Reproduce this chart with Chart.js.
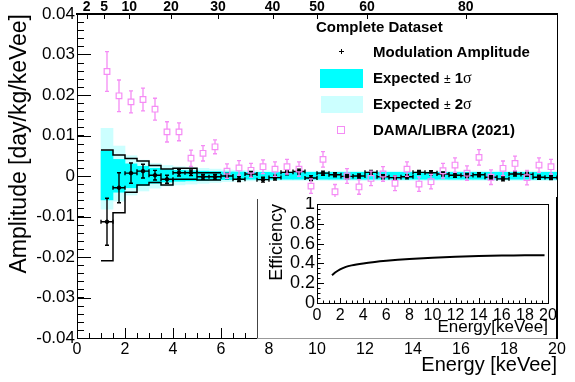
<!DOCTYPE html>
<html>
<head>
<meta charset="utf-8">
<script src="https://cdn.jsdelivr.net/npm/chart.js@4.4.1/dist/chart.umd.min.js"></script>
<style>
  html, body { margin: 0; padding: 0; background: #fff; }
  #wrap { position: relative; width: 575px; height: 382px; overflow: hidden;
          font-family: "Liberation Sans", Arial, Helvetica, sans-serif; }
  #main { position: absolute; left: 0; top: 0; }
  #inset { position: absolute; left: 257px; top: 197px; }
  .leg { position: absolute; font-weight: bold; font-size: 15px; line-height: 18px;
         white-space: nowrap; color: #000; }
  .pm { font-weight: normal; font-size: 12px; }
  .sig { font-family: "Liberation Serif", "DejaVu Serif", serif; font-weight: normal; font-size: 16px; }
  .box { position: absolute; }
</style>
</head>
<body>
<div id="wrap">
  <canvas id="main" width="575" height="382"></canvas>
  <canvas id="inset" width="300" height="142"></canvas>

  <!-- legend -->
  <div class="leg" style="left:316px; top:18px;">Complete Dataset</div>
  <div class="box" style="left:339px; top:51px; width:5px; height:1px; background:#000;"></div>
  <div class="box" style="left:341px; top:49px; width:1px; height:5px; background:#000;"></div>
  <div class="leg" style="left:373px; top:43px;">Modulation Amplitude</div>
  <div class="box" style="left:320px; top:69px; width:43px; height:19px; background:#00ffff;"></div>
  <div class="leg" style="left:373px; top:69px;">Expected <span class="pm">±</span> 1<span class="sig">σ</span></div>
  <div class="box" style="left:321px; top:96px; width:42px; height:17px; background:#ccffff;"></div>
  <div class="leg" style="left:373px; top:95px;">Expected <span class="pm">±</span> 2<span class="sig">σ</span></div>
  <div class="box" style="left:337px; top:126px; width:6px; height:6px; border:1.2px solid rgb(245,140,245);"></div>
  <div class="leg" style="left:373px; top:121px;">DAMA/LIBRA (2021)</div>
</div>

<script>
// ---------------------------------------------------------------------
// data
// ---------------------------------------------------------------------
const BIN_HALF = 0.25;   // keVee, half of the 0.5 keVee bins

const binCenters = [1.25, 1.75, 2.25, 2.75, 3.25, 3.75, 4.25, 4.75, 5.25, 5.75,
                    6.25, 6.75, 7.25, 7.75, 8.25, 8.75, 9.25, 9.75, 10.25, 10.75,
                    11.25, 11.75, 12.25, 12.75, 13.25, 13.75, 14.25, 14.75, 15.25, 15.75,
                    16.25, 16.75, 17.25, 17.75, 18.25, 18.75, 19.25, 19.75];

// Modulation amplitude (black points)
const modAmp = [-0.0113, -0.0029, 0.0007, 0.0012, 0.0002, -0.0008, 0.0008, 0.0008, -0.0002, -0.0002,
                0.0000, -0.0008, 0.0005, -0.0009, -0.0004, 0.0009, 0.0011, -0.0005, 0.0007, 0.0003,
                -0.0001, 0.0000, 0.0009, -0.0002, -0.0004, -0.0002, 0.0009, 0.0008, 0.0005, 0.0002,
                0.0001, 0.0003, -0.0003, -0.0007, 0.0005, 0.0004, -0.0003, -0.0004];
const modErr = [0.0058, 0.0037, 0.0025, 0.0017, 0.0012, 0.0010, 0.0008, 0.0007, 0.0006, 0.0006,
                0.0006, 0.0006, 0.0006, 0.0006, 0.0006, 0.0006, 0.0006, 0.0006, 0.0005, 0.0005,
                0.0005, 0.0005, 0.0005, 0.0005, 0.0005, 0.0005, 0.0005, 0.0005, 0.0005, 0.0005,
                0.0005, 0.0005, 0.0005, 0.0005, 0.0005, 0.0005, 0.0005, 0.0005];

// DAMA/LIBRA (2021) (pink open squares)
const damaAmp = [0.0258, 0.0198, 0.0183, 0.0189, 0.0165, 0.0109, 0.0109, 0.0044, 0.0056, 0.0072,
                 0.0012, 0.0020, 0.0014, 0.0023, 0.0017, 0.0023, 0.0017, -0.0025, 0.0041, -0.0039,
                 0.0000, -0.0027, -0.0006, 0.0005, -0.0018, 0.0017, -0.0020, -0.0014, 0.0013, 0.0027,
                 0.0007, 0.0046, -0.0003, 0.0019, 0.0031, -0.0004, 0.0027, 0.0023];
const damaErr = [0.0049, 0.0039, 0.0027, 0.0028, 0.0027, 0.0025, 0.0022, 0.0020, 0.0019, 0.0017,
                 0.0018, 0.0018, 0.0017, 0.0017, 0.0018, 0.0018, 0.0018, 0.0018, 0.0019, 0.0018,
                 0.0018, 0.0018, 0.0018, 0.0018, 0.0018, 0.0018, 0.0018, 0.0018, 0.0018, 0.0018,
                 0.0018, 0.0019, 0.0018, 0.0018, 0.0018, 0.0018, 0.0018, 0.0018];

// Expected +-1 sigma / +-2 sigma bands
const sig1Hi = [0.0062, 0.0041, 0.0030, 0.0024, 0.0019, 0.0016, 0.0014, 0.0013, 0.0012, 0.0011,
                0.0010, 0.0010, 0.0009, 0.0009, 0.0009, 0.0009, 0.0009, 0.0009, 0.0009, 0.0009,
                0.0009, 0.0009, 0.0009, 0.0009, 0.0009, 0.0009, 0.0009, 0.0009, 0.0009, 0.0009,
                0.0009, 0.0009, 0.0009, 0.0009, 0.0009, 0.0009, 0.0009, 0.0009];
const sig1Lo = [-0.0059, -0.0040, -0.0029, -0.0023, -0.0018, -0.0015, -0.0013, -0.0012, -0.0011, -0.0010,
                -0.0009, -0.0009, -0.0008, -0.0008, -0.0008, -0.0008, -0.0008, -0.0008, -0.0008, -0.0008,
                -0.0008, -0.0008, -0.0008, -0.0008, -0.0008, -0.0008, -0.0008, -0.0008, -0.0008, -0.0008,
                -0.0008, -0.0008, -0.0008, -0.0008, -0.0008, -0.0008, -0.0008, -0.0008];
const sig2Hi = [0.0118, 0.0074, 0.0050, 0.0039, 0.0031, 0.0026, 0.0023, 0.0021, 0.0019, 0.0017,
                0.0015, 0.0014, 0.0013, 0.0013, 0.0012, 0.0012, 0.0012, 0.0012, 0.0012, 0.0012,
                0.0012, 0.0012, 0.0012, 0.0012, 0.0012, 0.0012, 0.0012, 0.0012, 0.0012, 0.0012,
                0.0012, 0.0012, 0.0012, 0.0012, 0.0012, 0.0012, 0.0012, 0.0012];
const sig2Lo = [-0.0082, -0.0062, -0.0047, -0.0037, -0.0030, -0.0025, -0.0022, -0.0020, -0.0018, -0.0016,
                -0.0014, -0.0013, -0.0012, -0.0012, -0.0011, -0.0011, -0.0011, -0.0011, -0.0011, -0.0011,
                -0.0011, -0.0011, -0.0011, -0.0011, -0.0011, -0.0011, -0.0011, -0.0011, -0.0011, -0.0011,
                -0.0011, -0.0011, -0.0011, -0.0011, -0.0011, -0.0011, -0.0011, -0.0011];

// black step outline over the first ten bins (1 - 6 keVee)
const outlineHi = [0.0064, 0.0052, 0.0043, 0.0037, 0.0026, 0.0017, 0.0019, 0.0019, 0.0008, 0.0008];
const outlineLo = [-0.0209, -0.0091, -0.0040, -0.0022, -0.0016, -0.0022, -0.0008, -0.0008, -0.0010, -0.0010];

// top axis: where the labels sit on the keVee scale, and their text
const topTickPos = [0.40, 1.13, 2.18, 3.92, 5.88, 8.15, 10.0, 12.08, 16.2];
const topTickLabels = ["2", "5", "10", "20", "30", "40", "50", "60", "80"];

// inset: efficiency curve
const effEnergy = [1.3, 1.6, 2, 2.5, 3, 4, 5, 6, 7, 8, 10, 12, 14, 16, 18, 19.7];
const effValue  = [0.28, 0.31, 0.34, 0.365, 0.38, 0.40, 0.415, 0.427, 0.437, 0.445, 0.458, 0.467, 0.474, 0.479, 0.483, 0.482];

// ---------------------------------------------------------------------
// helpers
// ---------------------------------------------------------------------
const FONT = '"Liberation Sans", Arial, Helvetica, sans-serif';
Chart.defaults.font.family = FONT;
Chart.defaults.color = "#000";

const PINK = "rgb(245,140,245)";

function points(xs, ys) {
    return ys.map((y, i) => ({ x: xs[i], y: y }));
}

function bandBars(lo, hi) {
    return lo.map((l, i) => ({ x: binCenters[i], y: [l, hi[i]] }));
}

// histogram outline: one point at each left bin edge plus the final right edge
function stepEdges(vals) {
    const pts = vals.map((v, i) => ({ x: binCenters[i] - BIN_HALF, y: v }));
    pts.push({ x: binCenters[vals.length - 1] + BIN_HALF, y: vals[vals.length - 1] });
    return pts;
}

function fmtAmp(v) {
    if (Math.abs(v) < 1e-9) return "0";
    return v.toFixed(2);
}

// error bars (ROOT "E1" style, with end caps), drawn right after their dataset
const errorBars = {
    id: "errorBars",
    afterDatasetDraw(chart, args) {
        const ds = chart.data.datasets[args.index];
        if (!ds.errY) return;
        const xs = chart.scales.x, ys = chart.scales.y;
        const ctx = chart.ctx;
        const cap = ds.capHalf || 2;
        const gap = ds.errGap || 0;
        ctx.save();
        ctx.beginPath();
        ctx.rect(chart.chartArea.left, chart.chartArea.top,
                 chart.chartArea.right - chart.chartArea.left, chart.chartArea.bottom - chart.chartArea.top);
        ctx.clip();
        ctx.strokeStyle = ds.borderColor;
        ctx.lineWidth = ds.errWidth || 1;
        ctx.beginPath();
        ds.data.forEach((p, i) => {
            const px = xs.getPixelForValue(p.x);
            const py = ys.getPixelForValue(p.y);
            const top = ys.getPixelForValue(p.y + ds.errY[i]);
            const bot = ys.getPixelForValue(p.y - ds.errY[i]);
            if (py - gap > top) { ctx.moveTo(px, py - gap); ctx.lineTo(px, top); }
            if (py + gap < bot) { ctx.moveTo(px, py + gap); ctx.lineTo(px, bot); }
            ctx.moveTo(px - cap, top); ctx.lineTo(px + cap, top);
            ctx.moveTo(px - cap, bot); ctx.lineTo(px + cap, bot);
            if (ds.errX) {
                const l = xs.getPixelForValue(p.x - ds.errX);
                const r = xs.getPixelForValue(p.x + ds.errX);
                ctx.moveTo(l, py); ctx.lineTo(px - gap, py);
                ctx.moveTo(px + gap, py); ctx.lineTo(r, py);
                ctx.moveTo(l, py - cap); ctx.lineTo(l, py + cap);
                ctx.moveTo(r, py - cap); ctx.lineTo(r, py + cap);
            }
        });
        ctx.stroke();
        ctx.restore();
    }
};

// ROOT-like ticks pointing into the frame
function tickRun(scale, from, to, step) {
    const out = [];
    for (let v = from; v <= to + step * 1e-6; v += step) out.push(v);
    return out;
}

function drawTicks(ctx, scale, values, len, side) {
    const a = scale.chart.chartArea;
    ctx.beginPath();
    values.forEach(v => {
        const p = Math.round(scale.getPixelForValue(v)) + 0.5;
        if (side === "left")   { ctx.moveTo(a.left, p); ctx.lineTo(a.left + len, p); }
        if (side === "bottom") { ctx.moveTo(p, a.bottom); ctx.lineTo(p, a.bottom - len); }
        if (side === "top")    { ctx.moveTo(p, a.top); ctx.lineTo(p, a.top + len); }
    });
    ctx.stroke();
}

const mainFrame = {
    id: "mainFrame",
    afterDraw(chart) {
        const ctx = chart.ctx, a = chart.chartArea, s = chart.scales;
        ctx.save();
        ctx.strokeStyle = "#000";
        ctx.lineWidth = 1;
        drawTicks(ctx, s.y, tickRun(s.y, -0.04, 0.04, 0.01), 14, "left");
        drawTicks(ctx, s.y, tickRun(s.y, -0.04, 0.04, 0.002), 7, "left");
        drawTicks(ctx, s.x, tickRun(s.x, 0, 20, 2), 10, "bottom");
        drawTicks(ctx, s.x, tickRun(s.x, 0, 20, 0.5), 5, "bottom");
        drawTicks(ctx, s.x2, topTickPos, 5, "top");
        ctx.beginPath();
        ctx.moveTo(a.right + 0.5, a.top);
        ctx.lineTo(a.right + 0.5, a.bottom);
        ctx.stroke();
        ctx.restore();
    }
};

// ---------------------------------------------------------------------
// main chart
// ---------------------------------------------------------------------
new Chart(document.getElementById("main"), {
    type: "line",
    data: {
        datasets: [
            {
                label: "DAMA/LIBRA (2021)",
                data: points(binCenters, damaAmp),
                showLine: false,
                pointStyle: "rect",
                pointRadius: 4,
                pointBorderWidth: 1.2,
                borderColor: PINK,
                backgroundColor: "rgba(0,0,0,0)",
                errY: damaErr, errGap: 2.9, capHalf: 2, errWidth: 1.3,
                order: 1
            },
            {
                label: "Modulation Amplitude",
                data: points(binCenters, modAmp),
                showLine: false,
                pointStyle: "circle",
                pointRadius: 1.8,
                borderColor: "#000",
                backgroundColor: "#000",
                errY: modErr, errX: BIN_HALF, capHalf: 2, errWidth: 1.4,
                order: 2
            },
            {
                label: "outline high",
                data: stepEdges(outlineHi),
                stepped: "before",
                borderColor: "#000",
                borderWidth: 1.5,
                pointRadius: 0,
                fill: false,
                order: 3
            },
            {
                label: "outline low",
                data: stepEdges(outlineLo),
                stepped: "before",
                borderColor: "#000",
                borderWidth: 1.5,
                pointRadius: 0,
                fill: false,
                order: 3
            },
            {
                type: "bar",
                label: "Expected ± 1σ",
                data: bandBars(sig1Lo, sig1Hi),
                backgroundColor: "#00ffff",
                borderWidth: 0,
                grouped: false,
                barPercentage: 1,
                categoryPercentage: 1,
                order: 4
            },
            {
                type: "bar",
                label: "Expected ± 2σ",
                data: bandBars(sig2Lo, sig2Hi),
                backgroundColor: "#ccffff",
                borderWidth: 0,
                grouped: false,
                barPercentage: 1,
                categoryPercentage: 1,
                order: 5
            }
        ]
    },
    options: {
        responsive: false,
        animation: false,
        layout: { padding: { right: 18 } },
        plugins: { legend: { display: false }, tooltip: { enabled: false } },
        scales: {
            x: {
                type: "linear", position: "bottom", min: 0, max: 20, offset: false,
                ticks: { stepSize: 2, font: { size: 16 }, padding: 2, maxRotation: 0, autoSkip: false },
                grid: { display: false, drawTicks: false },
                border: { color: "#000", width: 1 },
                title: { display: true, text: "Energy [keVee]", align: "end",
                         font: { size: 20 }, padding: { top: 0, bottom: 5 } },
                afterFit: s => { s.height = 44; s.paddingLeft = 0; s.paddingRight = 0; }
            },
            x2: {
                type: "linear", position: "top", min: 0, max: 20, offset: false,
                afterBuildTicks: s => { s.ticks = topTickPos.map(v => ({ value: v })); },
                ticks: { callback: (v, i) => topTickLabels[i], font: { size: 14, weight: "bold", lineHeight: 1 },
                         padding: 0, autoSkip: false, maxRotation: 0 },
                grid: { display: false, drawTicks: false },
                border: { color: "#000", width: 2 },
                afterFit: s => { s.height = 14; s.paddingLeft = 0; s.paddingRight = 0; }
            },
            y: {
                min: -0.04, max: 0.04,
                ticks: { stepSize: 0.01, callback: v => fmtAmp(v), font: { size: 17 }, padding: 2 },
                grid: { display: false, drawTicks: false },
                border: { color: "#000", width: 1 },
                title: { display: true, text: "Amplitude [day/kg/keVee]", align: "end",
                         font: { size: 23 }, padding: { top: 6 } },
                afterFit: s => { s.width = 77; s.paddingTop = 0; s.paddingBottom = 0; }
            }
        }
    },
    plugins: [errorBars, mainFrame]
});

// ---------------------------------------------------------------------
// inset: efficiency
// ---------------------------------------------------------------------
const insetPad = {
    id: "insetPad",
    beforeDraw(chart) {
        const ctx = chart.ctx;
        ctx.save();
        ctx.fillStyle = "#fff";
        ctx.fillRect(0, 0, chart.width, chart.height);
        ctx.restore();
    },
    afterDraw(chart) {
        const ctx = chart.ctx, a = chart.chartArea, s = chart.scales;
        ctx.save();
        ctx.strokeStyle = "#000";
        ctx.lineWidth = 1;
        ctx.strokeRect(a.left + 0.5, a.top + 0.5, a.right - a.left, a.bottom - a.top);
        drawTicks(ctx, s.y, tickRun(s.y, 0, 1, 0.2), 7, "left");
        drawTicks(ctx, s.y, tickRun(s.y, 0, 1, 0.05), 3.5, "left");
        drawTicks(ctx, s.x, tickRun(s.x, 0, 20, 2), 5, "bottom");
        drawTicks(ctx, s.x, tickRun(s.x, 0, 20, 0.5), 2.5, "bottom");
        // pad edges
        ctx.strokeStyle = "#444";
        ctx.beginPath();
        ctx.moveTo(0.5, 2); ctx.lineTo(0.5, chart.height);
        ctx.stroke();
        ctx.strokeStyle = "#999";
        ctx.beginPath();
        ctx.moveTo(0, chart.height - 0.5); ctx.lineTo(chart.width, chart.height - 0.5);
        ctx.stroke();
        ctx.strokeStyle = "#000";
        ctx.beginPath();
        ctx.moveTo(chart.width - 0.5, 0); ctx.lineTo(chart.width - 0.5, chart.height);
        ctx.stroke();
        ctx.restore();
    }
};

new Chart(document.getElementById("inset"), {
    type: "line",
    data: {
        datasets: [{
            label: "Efficiency",
            data: points(effEnergy, effValue),
            borderColor: "#000",
            borderWidth: 2,
            pointRadius: 0,
            cubicInterpolationMode: "monotone",
            fill: false
        }]
    },
    options: {
        responsive: false,
        animation: false,
        layout: { padding: { top: 7, right: 9 } },
        plugins: { legend: { display: false }, tooltip: { enabled: false } },
        scales: {
            x: {
                type: "linear", min: 0, max: 20, offset: false,
                ticks: { stepSize: 2, font: { size: 16 }, padding: 3, maxRotation: 0, autoSkip: false },
                grid: { display: false, drawTicks: false },
                border: { display: false },
                title: { display: true, text: "Energy[keVee]", align: "end",
                         font: { size: 17 }, padding: { top: 0, bottom: 1 } },
                afterFit: s => { s.height = 36; s.paddingLeft = 0; s.paddingRight = 0; }
            },
            y: {
                min: 0, max: 1,
                ticks: { stepSize: 0.2, font: { size: 18 }, padding: 2, autoSkip: false,
                         callback: v => String(Math.round(v * 10) / 10) },
                grid: { display: false, drawTicks: false },
                border: { display: false },
                title: { display: true, text: "Efficiency", align: "end",
                         font: { size: 18 }, padding: { top: 9 } },
                afterFit: s => { s.width = 60; s.paddingTop = 0; s.paddingBottom = 0; }
            }
        }
    },
    plugins: [insetPad]
});
</script>
</body>
</html>
